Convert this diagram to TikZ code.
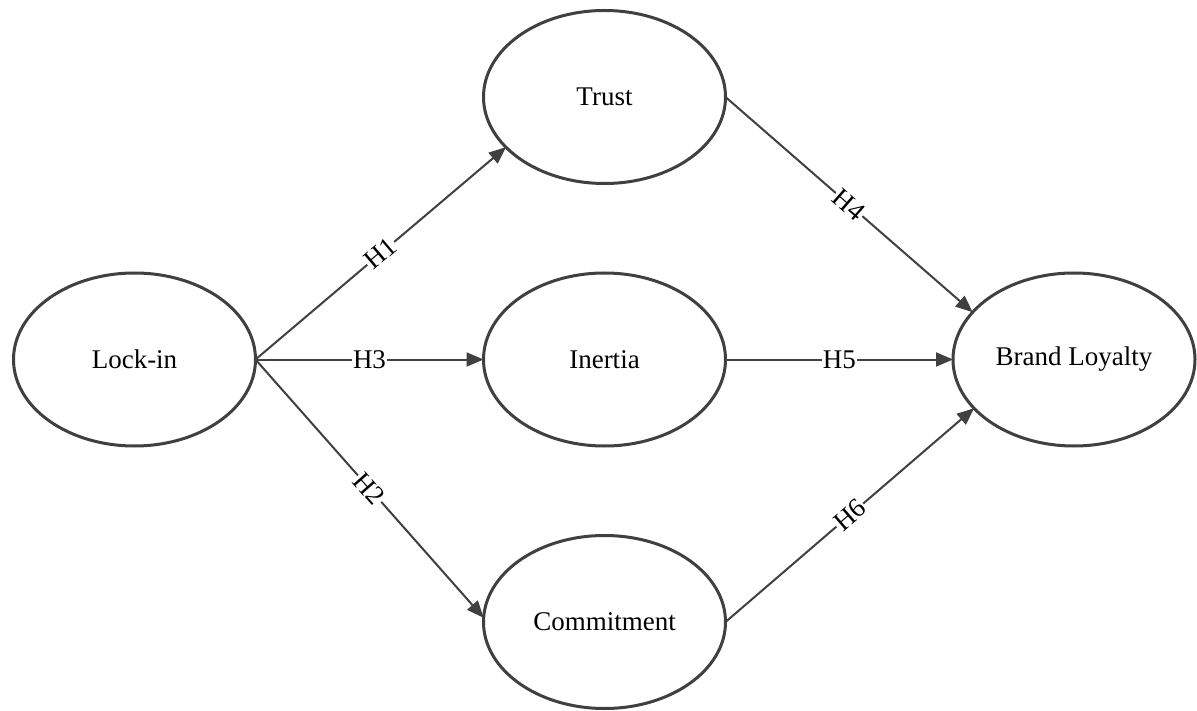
\documentclass[tikz,border=0pt]{standalone}
\usepackage{fontspec}
\setmainfont{Liberation Serif}
\usetikzlibrary{arrows.meta,shapes.geometric}
\definecolor{ln}{HTML}{404040}
\begin{document}
\begin{tikzpicture}[x=1pt,y=-1pt,
  var/.style={ellipse,draw=ln,line width=3pt,minimum width=242pt,minimum height=173pt,inner sep=0pt,outer sep=0pt,font=\fontsize{27}{31}\selectfont},
  conn/.style={draw=ln,line width=2pt,-{Triangle[length=17pt,width=14pt]}},
  lab/.style={fill=white,inner sep=1pt,font=\fontsize{27}{31}\selectfont,midway}]
\fill[white] (0,0) rectangle (1197,711);
\useasboundingbox (0,0) rectangle (1197,711);
\node[var] (lock) at (134.5,359.5) {Lock-in};
\node[var] (trust) at (604.5,97) {Trust};
\node[var] (inertia) at (604.5,359.5) {Inertia};
\node[var] (commit) at (604.5,622) {Commitment};
\node[var] (brand) at (1074,359.5) {Brand Loyalty};
\draw[conn] (lock.east) -- (trust.207) node[lab,sloped]{H1};
\draw[conn] (lock.east) -- (inertia.west) node[lab]{H3};
\draw[conn] (lock.east) -- (commit.178) node[lab,sloped]{H2};
\draw[conn] (trust.east) -- (brand.155) node[lab,sloped]{H4};
\draw[conn] (inertia.east) -- (brand.west) node[lab]{H5};
\draw[conn] (commit.east) -- (brand.206) node[lab,sloped]{H6};
\end{tikzpicture}
\end{document}
